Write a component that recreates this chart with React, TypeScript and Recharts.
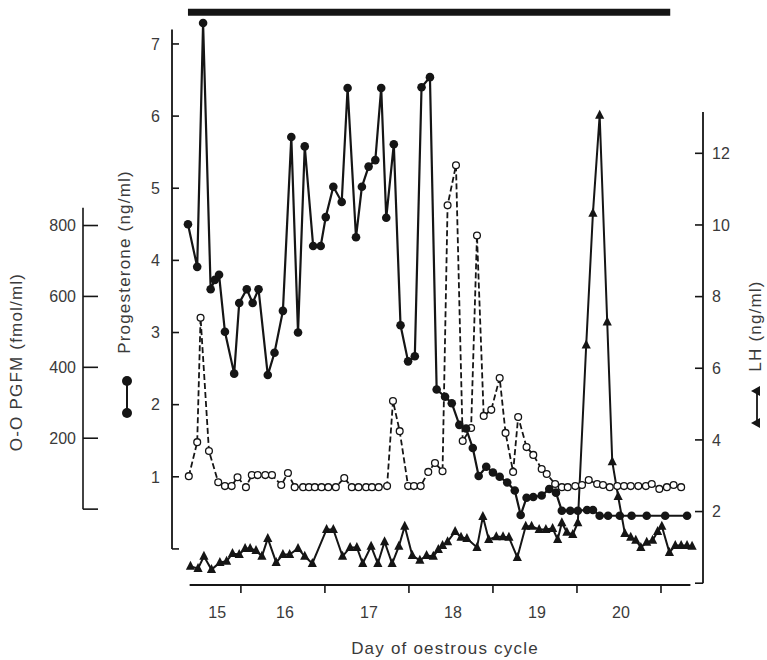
import React from "react";
import { ComposedChart, Line, XAxis, YAxis, ReferenceLine } from "recharts";

// ---- data ----
// progesterone, ng/ml
const PROG_DAY = [
  14.87, 14.98, 15.05, 15.14, 15.19, 15.24, 15.31, 15.42, 15.48, 15.57, 15.64,
  15.71, 15.82, 15.9, 16.0, 16.1, 16.18, 16.26, 16.36, 16.45, 16.51, 16.6, 16.7,
  16.77, 16.87, 16.94, 17.02, 17.1, 17.17, 17.23, 17.32, 17.4, 17.49, 17.57,
  17.65, 17.75, 17.83, 17.93, 18.01, 18.1, 18.18, 18.26, 18.33, 18.42, 18.5,
  18.58, 18.67, 18.76, 18.83, 18.9, 18.98, 19.08, 19.17, 19.25, 19.32, 19.42,
  19.51, 19.62, 19.69, 19.77, 19.87, 20.01, 20.15, 20.33, 20.55, 20.81,
];
const PROG_NGML = [
  4.5, 3.91, 7.29, 3.6, 3.73, 3.8, 3.01, 2.43, 3.41, 3.6, 3.41, 3.6, 2.41, 2.72,
  3.3, 5.71, 3.0, 5.58, 4.2, 4.2, 4.6, 5.02, 4.81, 6.39, 4.32, 5.02, 5.3, 5.39,
  6.39, 4.59, 5.61, 3.1, 2.6, 2.67, 6.4, 6.54, 2.21, 2.11, 2.02, 1.72, 1.67, 1.4,
  1.01, 1.14, 1.06, 1.0, 0.92, 0.81, 0.47, 0.71, 0.72, 0.74, 0.83, 0.78, 0.53,
  0.53, 0.53, 0.54, 0.54, 0.46, 0.46, 0.46, 0.46, 0.46, 0.46, 0.46,
];

// PGFM, fmol/ml
const PGFM_DAY = [
  14.88, 14.98, 15.02, 15.12, 15.23, 15.31, 15.39, 15.46, 15.56, 15.63, 15.7,
  15.79, 15.87, 15.98, 16.06, 16.14, 16.24, 16.31, 16.38, 16.46, 16.54, 16.63,
  16.73, 16.82, 16.9, 16.99, 17.06, 17.14, 17.24, 17.31, 17.39, 17.49, 17.56,
  17.64, 17.73, 17.81, 17.9, 17.96, 18.06, 18.14, 18.24, 18.31, 18.39, 18.48,
  18.58, 18.65, 18.74, 18.8, 18.9, 18.98, 19.08, 19.14, 19.24, 19.32, 19.39,
  19.48, 19.56, 19.64, 19.74, 19.81, 19.89, 19.98, 20.06, 20.14, 20.23, 20.32,
  20.39, 20.48, 20.57, 20.65, 20.74,
];
const PGFM_FMOL = [
  93, 189, 540, 164, 76, 65, 65, 90, 62, 96, 96, 96, 96, 68, 102, 62, 62, 62,
  62, 62, 62, 62, 88, 62, 62, 62, 62, 62, 65, 305, 220, 65, 65, 65, 105, 130,
  107, 857, 970, 192, 229, 772, 263, 280, 370, 215, 105, 260, 175, 153, 113, 99,
  71, 62, 62, 65, 68, 82, 71, 68, 62, 65, 65, 65, 65, 65, 71, 57, 62, 68, 62,
];

// LH, ng/ml
const LH_DAY = [
  14.9, 14.99, 15.06, 15.15, 15.25, 15.33, 15.4, 15.48, 15.55, 15.61, 15.68,
  15.75, 15.82, 15.92, 16.0, 16.08, 16.18, 16.26, 16.35, 16.52, 16.6, 16.71,
  16.8, 16.88, 16.95, 17.05, 17.13, 17.21, 17.3, 17.38, 17.45, 17.54, 17.63,
  17.71, 17.79, 17.85, 17.9, 17.96, 18.05, 18.12, 18.19, 18.31, 18.38, 18.45,
  18.54, 18.62, 18.69, 18.79, 18.89, 18.96, 19.05, 19.13, 19.21, 19.27, 19.32,
  19.38, 19.45, 19.51, 19.61, 19.69, 19.77, 19.86, 19.92, 19.99, 20.07, 20.14,
  20.2, 20.26, 20.33, 20.4, 20.46, 20.51, 20.6, 20.67, 20.74, 20.81, 20.87,
];
const LH_NGML = [
  0.47, 0.41, 0.75, 0.38, 0.58, 0.61, 0.83, 0.8, 0.97, 0.97, 0.91, 0.75, 1.25,
  0.58, 0.8, 0.8, 0.97, 0.75, 0.55, 1.5, 1.5, 0.75, 1.0, 1.0, 0.55, 1.03, 0.55,
  1.16, 0.55, 1.03, 1.59, 0.77, 0.64, 0.77, 0.75, 0.94, 1.05, 1.16, 1.44, 1.28,
  1.25, 1.0, 1.86, 1.22, 1.3, 1.3, 1.28, 0.72, 1.59, 1.59, 1.5, 1.5, 1.53, 1.22,
  1.69, 1.42, 1.36, 1.69, 6.65, 10.33, 13.06, 7.29, 3.39, 2.42, 1.39, 1.28, 1.2,
  1.0, 1.14, 1.2, 1.44, 1.59, 0.86, 1.05, 1.05, 1.05, 1.03,
];

// axes
const DAY_LABELS = [15, 16, 17, 18, 19, 20];
const DAY_BOUNDARIES = [15.5, 16.5, 17.5, 18.5, 19.5, 20.5];
const PROG_TICKS = [0, 1, 2, 3, 4, 5, 6, 7];
const PGFM_TICKS = [0, 200, 400, 600, 800];
const LH_TICKS = [0, 2, 4, 6, 8, 10, 12];
// black bar over the top of the plot (days)
const BAR_DAYS = [14.87, 20.61];

// ---- layout ----
const W = 767;
const H = 660;
const TOP = 5;
const PLOT_H = 580;
const PLOT_W = 531;
const INK = "#151515";
const TEXT = "#3a3a3a";
const FONT = '"Liberation Sans", Arial, Helvetica, sans-serif';

const X_DOMAIN = [14.68, 21.0];
const X_LINE = [14.89, 20.85]; // drawn extent of the day axis
const PROG_DOMAIN = [-0.5, 7.54];
const PGFM_DOMAIN = [-214, 1422];
const LH_DOMAIN = [-0.05, 16.14];
const PROG_LINE = [0, 7.2];
const PGFM_LINE = [0, 850];
const LH_LINE = [0, 13.15];
const BAR_LEVEL = 7.44; // on progesterone scale

// axis ids: left axes are stacked outward in id order
const PROG_ID = "a_prog";
const PGFM_ID = "b_pgfm";
const LH_ID = "c_lh";

// dash pattern that only draws part of an axis line
function yDash(span: number[], dom: number[]) {
  const k = PLOT_H / (dom[1] - dom[0]);
  const a = (dom[1] - span[1]) * k;
  const b = (dom[1] - span[0]) * k;
  return `0 ${a} ${b - a} ${H}`;
}
function xDash(span: number[], dom: number[]) {
  const k = PLOT_W / (dom[1] - dom[0]);
  const a = (span[0] - dom[0]) * k;
  const b = (span[1] - dom[0]) * k;
  return `0 ${a} ${b - a} ${W}`;
}

// label of each day sits in the middle of the visible part of that day
const LABEL_POS = DAY_LABELS.map((d) => {
  const lo = Math.max(d - 0.5, X_LINE[0]);
  const hi = Math.min(d + 0.5, X_LINE[1]);
  return (lo + hi) / 2;
});

const progData = PROG_DAY.map((t, i) => ({ t, v: PROG_NGML[i] }));
const pgfmData = PGFM_DAY.map((t, i) => ({ t, v: PGFM_FMOL[i] }));
const lhData = LH_DAY.map((t, i) => ({ t, v: LH_NGML[i] }));

const tickText = { fill: TEXT, fontSize: 16, fontFamily: FONT };

function makeLeftTick(len: number, gap: number) {
  return (props: any) => {
    const { x, y, payload } = props;
    return (
      <g>
        <line x1={x} y1={y} x2={x + len} y2={y} stroke={INK} strokeWidth={1.6} />
        {payload.value !== 0 && (
          <text x={x - gap} y={y} dy="0.36em" textAnchor="end" {...tickText}>
            {payload.value}
          </text>
        )}
      </g>
    );
  };
}

function RightTick(props: any) {
  const { x, y, payload } = props;
  return (
    <g>
      <line x1={x - 8} y1={y} x2={x} y2={y} stroke={INK} strokeWidth={1.6} />
      {payload.value !== 0 && (
        <text x={x + 9} y={y} dy="0.36em" textAnchor="start" {...tickText}>
          {payload.value}
        </text>
      )}
    </g>
  );
}

function DayTick(props: any) {
  const { x, y, payload } = props;
  const v = payload.value;
  if (DAY_BOUNDARIES.includes(v)) {
    return <line x1={x} y1={y} x2={x} y2={y + 8} stroke={INK} strokeWidth={1.6} />;
  }
  const idx = LABEL_POS.indexOf(v);
  return (
    <text x={x + 2} y={y + 27} dy="0.36em" textAnchor="middle" {...tickText}>
      {DAY_LABELS[idx]}
    </text>
  );
}

function ProgDot(props: any) {
  const { cx, cy, index } = props;
  return <circle key={`p${index}`} cx={cx} cy={cy} r={4.3} fill={INK} />;
}
function PgfmDot(props: any) {
  const { cx, cy, index } = props;
  return (
    <circle
      key={`g${index}`}
      cx={cx}
      cy={cy}
      r={3.4}
      fill="#fff"
      stroke={INK}
      strokeWidth={1.3}
    />
  );
}
function LhDot(props: any) {
  const { cx, cy, index } = props;
  return (
    <path
      key={`l${index}`}
      d={`M${cx},${cy - 5.5} L${cx + 4.6},${cy + 3.5} L${cx - 4.6},${cy + 3.5} Z`}
      fill={INK}
    />
  );
}

export default function App() {
  const ticksX = [...DAY_BOUNDARIES, ...LABEL_POS];
  return (
    <div style={{ position: "absolute", left: 0, top: 0, width: W, height: H, background: "#fff" }}>
      <ComposedChart
        width={W}
        height={H}
        margin={{ top: TOP, right: 0, bottom: 0, left: 0 }}
      >
        <XAxis
          dataKey="t"
          type="number"
          domain={X_DOMAIN}
          allowDataOverflow
          ticks={ticksX}
          interval={0}
          height={75}
          tickSize={0}
          tickMargin={0}
          tickLine={false}
          axisLine={{ stroke: INK, strokeWidth: 2, strokeDasharray: xDash(X_LINE, X_DOMAIN) }}
          tick={DayTick}
        />
        {/* inner left axis: progesterone */}
        <YAxis
          yAxisId={PROG_ID}
          orientation="left"
          width={89}
          type="number"
          domain={PROG_DOMAIN}
          allowDataOverflow
          ticks={PROG_TICKS}
          interval={0}
          tickSize={0}
          tickMargin={0}
          tickLine={false}
          axisLine={{ stroke: INK, strokeWidth: 1.8, strokeDasharray: yDash(PROG_LINE, PROG_DOMAIN) }}
          tick={makeLeftTick(7, 12)}
        />
        {/* outer left axis: PGFM */}
        <YAxis
          yAxisId={PGFM_ID}
          orientation="left"
          width={83}
          type="number"
          domain={PGFM_DOMAIN}
          allowDataOverflow
          ticks={PGFM_TICKS}
          interval={0}
          tickSize={0}
          tickMargin={0}
          tickLine={false}
          axisLine={{ stroke: INK, strokeWidth: 1.6, strokeDasharray: yDash(PGFM_LINE, PGFM_DOMAIN) }}
          tick={makeLeftTick(15, 7)}
        />
        <YAxis
          yAxisId={LH_ID}
          orientation="right"
          width={64}
          type="number"
          domain={LH_DOMAIN}
          allowDataOverflow
          ticks={LH_TICKS}
          interval={0}
          tickSize={0}
          tickMargin={0}
          tickLine={false}
          axisLine={{ stroke: INK, strokeWidth: 1.8, strokeDasharray: yDash(LH_LINE, LH_DOMAIN) }}
          tick={RightTick}
        />

        <ReferenceLine
          yAxisId={PROG_ID}
          segment={[
            { x: BAR_DAYS[0], y: BAR_LEVEL },
            { x: BAR_DAYS[1], y: BAR_LEVEL },
          ]}
          stroke={INK}
          strokeWidth={7}
          ifOverflow="visible"
        />

        <Line
          data={pgfmData}
          dataKey="v"
          yAxisId={PGFM_ID}
          type="linear"
          stroke={INK}
          strokeWidth={1.8}
          strokeDasharray="6 3"
          dot={PgfmDot}
          activeDot={false}
          isAnimationActive={false}
        />
        <Line
          data={lhData}
          dataKey="v"
          yAxisId={LH_ID}
          type="linear"
          stroke={INK}
          strokeWidth={2}
          dot={LhDot}
          activeDot={false}
          isAnimationActive={false}
        />
        <Line
          data={progData}
          dataKey="v"
          yAxisId={PROG_ID}
          type="linear"
          stroke={INK}
          strokeWidth={2.2}
          dot={ProgDot}
          activeDot={false}
          isAnimationActive={false}
        />
      </ComposedChart>

      {/* axis titles and key symbols */}
      <svg
        width={W}
        height={H}
        style={{ position: "absolute", left: 0, top: 0, pointerEvents: "none" }}
        fontFamily={FONT}
        fill={TEXT}
      >
        <text
          transform="translate(124,262) rotate(-90)"
          textAnchor="middle"
          dy="0.36em"
          fontSize={17}
          letterSpacing={1.2}
        >
          Progesterone (ng/ml)
        </text>
        <g>
          <line x1={127} y1={381} x2={127} y2={413} stroke={INK} strokeWidth={2} />
          <circle cx={127} cy={381} r={5} fill={INK} />
          <circle cx={127} cy={413} r={5} fill={INK} />
        </g>

        <text
          transform="translate(16,362) rotate(-90)"
          textAnchor="middle"
          dy="0.36em"
          fontSize={17}
          letterSpacing={1.2}
        >
          O-O PGFM (fmol/ml)
        </text>

        <text
          transform="translate(755,326) rotate(-90)"
          textAnchor="middle"
          dy="0.36em"
          fontSize={17}
          letterSpacing={1.2}
        >
          LH (ng/ml)
        </text>
        <g transform="translate(757,407) rotate(-90)">
          <line x1={-16} y1={0} x2={16} y2={0} stroke={INK} strokeWidth={1.8} />
          <path d="M-16,-6 L-11,3 L-21,3 Z" fill={INK} />
          <path d="M16,-6 L21,3 L11,3 Z" fill={INK} />
        </g>

        <text x={445} y={648} dy="0.36em" textAnchor="middle" fontSize={17} letterSpacing={1.2}>
          Day of oestrous cycle
        </text>
      </svg>
    </div>
  );
}
